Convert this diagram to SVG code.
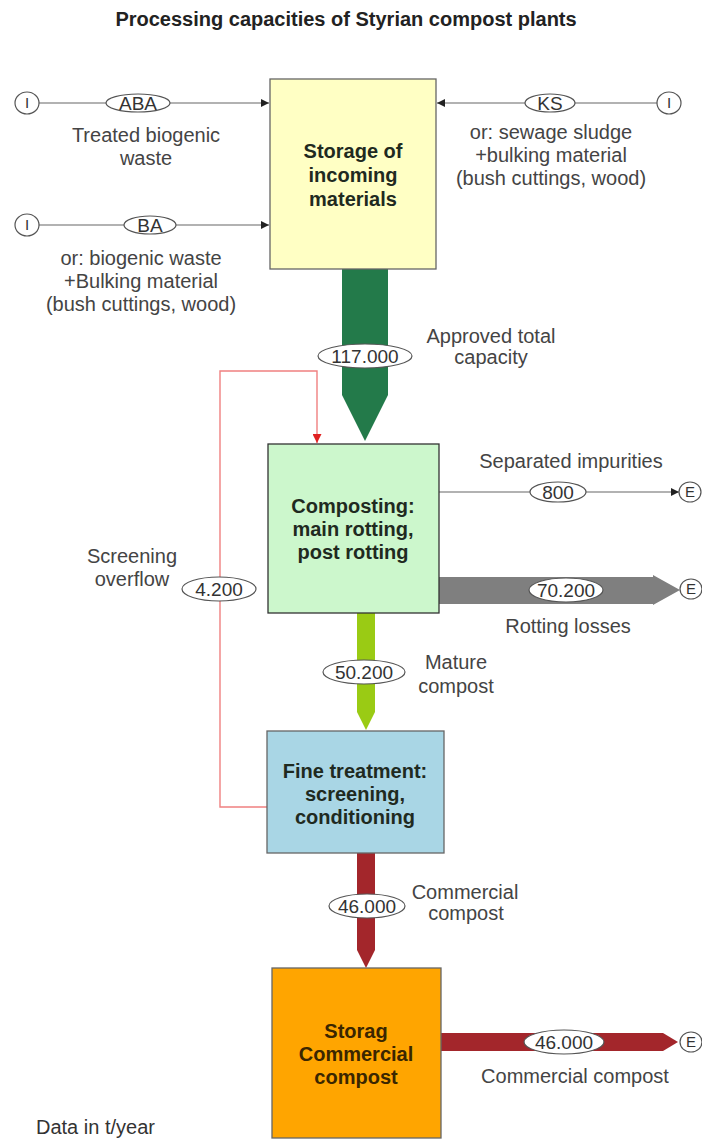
<svg xmlns="http://www.w3.org/2000/svg" width="702" height="1140" viewBox="0 0 702 1140">
<defs>
<style>
.t{font-family:"Liberation Sans",Arial,sans-serif;font-size:20px;fill:#444;text-anchor:middle}
.b{font-family:"Liberation Sans",Arial,sans-serif;font-size:20px;font-weight:bold;fill:#1f2a1f;text-anchor:middle}
.v{font-family:"Liberation Sans",Arial,sans-serif;font-size:19px;fill:#333;text-anchor:middle}
.c{font-family:"Liberation Sans",Arial,sans-serif;font-size:15px;fill:#333;text-anchor:middle}
.lbl{fill:#fff;stroke:#555;stroke-width:1.2}
.thin{stroke:#999;stroke-width:1.3;fill:none}
.box{stroke:#666;stroke-width:1.3}
</style>
<marker id="ah" viewBox="0 0 10 10" refX="10" refY="5" markerWidth="8" markerHeight="8" markerUnits="userSpaceOnUse" orient="auto"><path d="M0,0 L10,5 L0,10 z" fill="#222"/></marker>
<marker id="ahr" viewBox="0 0 10 10" refX="10" refY="5" markerWidth="9" markerHeight="9" markerUnits="userSpaceOnUse" orient="auto"><path d="M0,0 L10,5 L0,10 z" fill="#e02020"/></marker>
</defs>
<rect width="702" height="1140" fill="#fff"/>
<text x="346" y="26" class="b" style="fill:#222">Processing capacities of Styrian compost plants</text>

<g id="connectors">
  <line x1="39" y1="103" x2="269" y2="103" class="thin" marker-end="url(#ah)"/>
  <line x1="39" y1="225" x2="269" y2="225" class="thin" marker-end="url(#ah)"/>
  <line x1="657" y1="103" x2="437" y2="103" class="thin" marker-end="url(#ah)"/>
  <line x1="439" y1="492" x2="679" y2="492" class="thin" marker-end="url(#ah)"/>
  <polyline points="267,807 220,807 220,371 317,371 317,443" fill="none" stroke="#f08080" stroke-width="1.4" marker-end="url(#ahr)"/>
  <path d="M342,269 H388 V395 L365,441 L342,395 Z" fill="#237a4a"/>
  <path d="M439,577 H653 V575 L680,590 L653,605 V604 H439 Z" fill="#7f7f7f"/>
  <path d="M357,613 H375 V712 L366,730 L357,712 Z" fill="#9acb14"/>
  <path d="M357,853 H375 V950 L366,968 L357,950 Z" fill="#a3262b"/>
  <path d="M441,1033 H663 L678,1042 L663,1051 H441 Z" fill="#a3262b"/>
  <ellipse cx="27" cy="103" rx="12" ry="11" class="lbl"/>
  <text x="27" y="108" class="c">I</text>
  <ellipse cx="27" cy="225" rx="12" ry="11" class="lbl"/>
  <text x="27" y="230" class="c">I</text>
  <ellipse cx="669" cy="103" rx="12" ry="11" class="lbl"/>
  <text x="669" y="108" class="c">I</text>
  <ellipse cx="690" cy="492" rx="11" ry="10" class="lbl"/>
  <text x="690" y="497" class="c">E</text>
  <ellipse cx="691" cy="589" rx="11" ry="10" class="lbl"/>
  <text x="691" y="594" class="c">E</text>
  <ellipse cx="691" cy="1042" rx="11" ry="10" class="lbl"/>
  <text x="691" y="1047" class="c">E</text>
  <ellipse cx="138" cy="103" rx="32" ry="9" class="lbl"/>
  <text x="138" y="110" class="v">ABA</text>
  <ellipse cx="150" cy="225" rx="26" ry="9" class="lbl"/>
  <text x="150" y="232" class="v">BA</text>
  <ellipse cx="550" cy="103" rx="25" ry="9" class="lbl"/>
  <text x="550" y="110" class="v">KS</text>
  <ellipse cx="365" cy="356" rx="47" ry="12" class="lbl"/>
  <text x="365" y="363" class="v">117.000</text>
  <ellipse cx="558" cy="492" rx="28" ry="10" class="lbl"/>
  <text x="558" y="499" class="v">800</text>
  <ellipse cx="566" cy="590" rx="37" ry="12" class="lbl"/>
  <text x="566" y="597" class="v">70.200</text>
  <ellipse cx="219" cy="589" rx="37" ry="12" class="lbl"/>
  <text x="219" y="596" class="v">4.200</text>
  <ellipse cx="364" cy="672" rx="41" ry="12" class="lbl"/>
  <text x="364" y="679" class="v">50.200</text>
  <ellipse cx="367" cy="906" rx="38" ry="12" class="lbl"/>
  <text x="367" y="913" class="v">46.000</text>
  <ellipse cx="564" cy="1042" rx="40" ry="12" class="lbl"/>
  <text x="564" y="1049" class="v">46.000</text>
</g>

<g id="labels">
  <text x="146" y="142" class="t">Treated biogenic</text>
  <text x="146" y="165" class="t">waste</text>
  <text x="141" y="265" class="t">or: biogenic waste</text>
  <text x="141" y="288" class="t">+Bulking material</text>
  <text x="141" y="311" class="t">(bush cuttings, wood)</text>
  <text x="551" y="139" class="t">or: sewage sludge</text>
  <text x="551" y="162" class="t">+bulking material</text>
  <text x="551" y="185" class="t">(bush cuttings, wood)</text>
  <text x="491" y="343" class="t">Approved total</text>
  <text x="491" y="364" class="t">capacity</text>
  <text x="571" y="468" class="t">Separated impurities</text>
  <text x="568" y="633" class="t">Rotting losses</text>
  <text x="132" y="563" class="t">Screening</text>
  <text x="132" y="586" class="t">overflow</text>
  <text x="456" y="669" class="t">Mature</text>
  <text x="456" y="693" class="t">compost</text>
  <text x="465" y="899" class="t">Commercial</text>
  <text x="466" y="920" class="t">compost</text>
  <text x="575" y="1083" class="t">Commercial compost</text>
  <text x="36" y="1134" class="t" style="text-anchor:start;fill:#333">Data in t/year</text>
</g>

<g id="storage">
  <rect x="270" y="79" width="166" height="190" fill="#ffffc4" class="box"/>
  <text x="353" y="158" class="b">Storage of</text>
  <text x="353" y="182" class="b">incoming</text>
  <text x="353" y="206" class="b">materials</text>
</g>
<g id="composting">
  <rect x="268" y="444" width="171" height="169" fill="#ccf7cc" stroke="#333" stroke-width="1.3"/>
  <text x="353" y="513" class="b">Composting:</text>
  <text x="353" y="536" class="b">main rotting,</text>
  <text x="353" y="559" class="b">post rotting</text>
</g>
<g id="fine">
  <rect x="267" y="731" width="177" height="122" fill="#a9d6e5" class="box"/>
  <text x="355" y="778" class="b">Fine treatment:</text>
  <text x="355" y="801" class="b">screening,</text>
  <text x="355" y="824" class="b">conditioning</text>
</g>
<g id="storag">
  <rect x="272" y="968" width="169" height="170" fill="#ffa500" class="box"/>
  <text x="356" y="1038" class="b" style="fill:#3a2600">Storag</text>
  <text x="356" y="1061" class="b" style="fill:#3a2600">Commercial</text>
  <text x="356" y="1084" class="b" style="fill:#3a2600">compost</text>
</g>
</svg>
